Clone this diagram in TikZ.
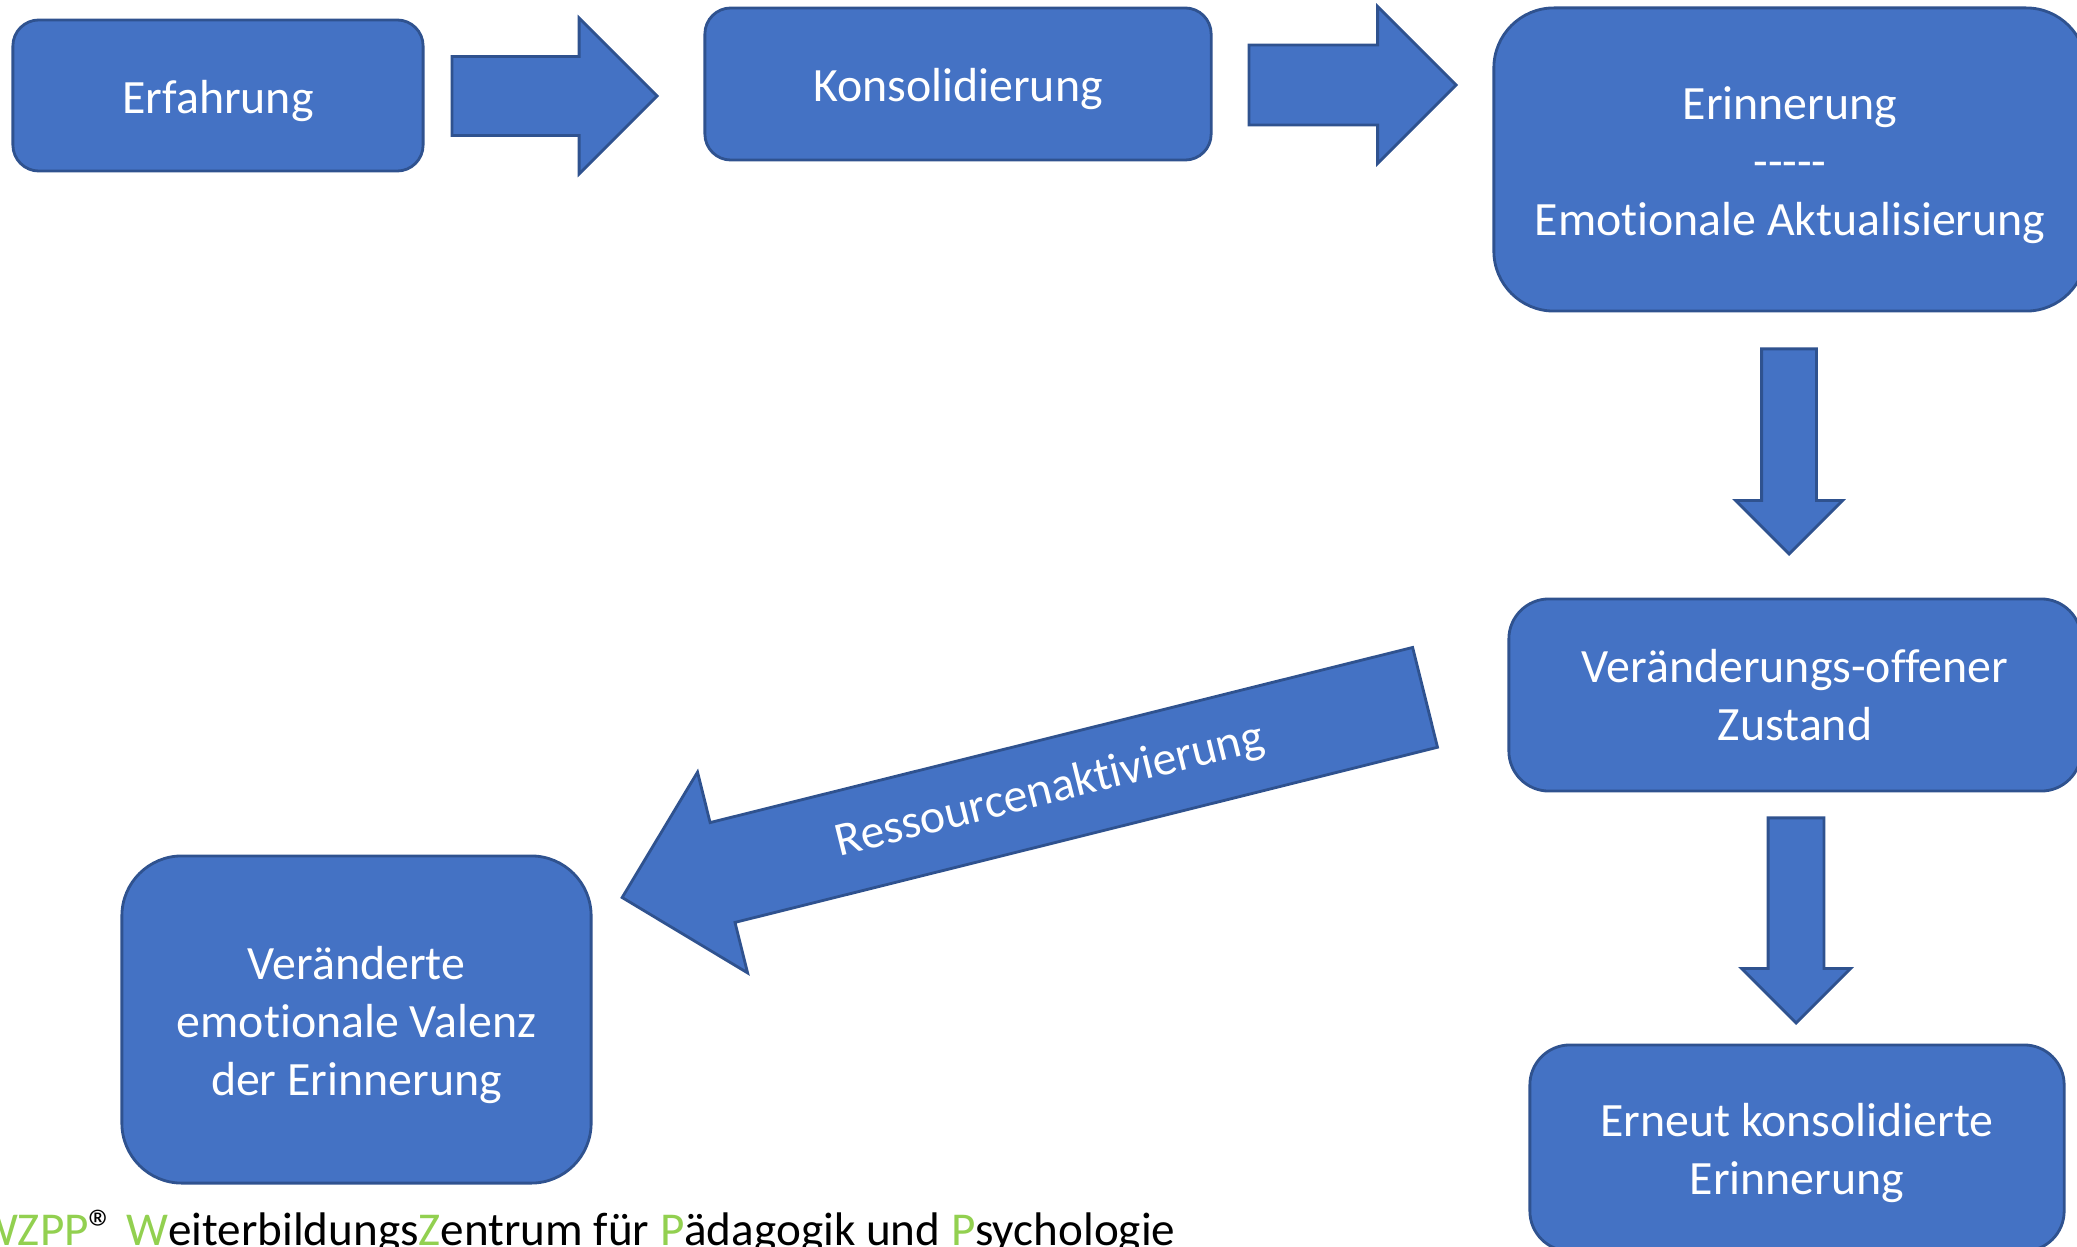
\documentclass[tikz,border=0pt]{standalone}
\usepackage{fontspec}
\setmainfont{Carlito}[Ligatures=NoCommon]
\usetikzlibrary{
  shapes.arrows,
  positioning,
  calc}
\definecolor{boxcolor}{RGB}{68,114,196}
\definecolor{bordercolor}{RGB}{47,82,143}
\definecolor{wzppgreen}{RGB}{146,208,80}
\newcommand{\slidefont}{\fontsize{13.6}{16.5}\selectfont}
%% a little room above the first line, as the slide has it
\newcommand{\headroom}{\rule{0pt}{12.4pt}}
\tikzset{
  %% phase : a phase of the memory process
  phase/.style={
    rectangle,
    rounded corners=0.26cm,
    fill=boxcolor,
    draw=bordercolor,
    line width=0.8pt,
    text=white,
    font=\slidefont,
    align=center
  },
  %% blockarrow : wide arrow from one phase to the next
  %%   inner ysep is half the width of the shaft
  blockarrow/.style={
    single arrow,
    single arrow tip angle=90,
    fill=boxcolor,
    draw=bordercolor,
    line width=0.8pt,
    inner xsep=0pt,
    anchor=tail
  },
  %% arrowlabel : text written on a block arrow
  arrowlabel/.style={
    text=white,
    font=\slidefont,
    inner sep=0pt
  }
}

\begin{document}
\begin{tikzpicture}
  [x=0.01cm,
  y=-0.01cm,
  align=center]

  \path [use as bounding box, clip] (0,0) rectangle (2077,1246);

  %% phases
  \node (erf) [phase, minimum width=4.10cm, minimum height=1.51cm]
    at (218,95.5) {\headroom Erfahrung};

  \node (kons) [phase, minimum width=5.06cm, minimum height=1.52cm]
    at (958,84) {\headroom Konsolidierung};

  \node (erin) [phase, rounded corners=0.6cm,
    minimum width=5.92cm, minimum height=3.03cm] at (1790,159.5) {%
    \headroom Erinnerung\\
    -{}-{}-{}-{}-\\
    Emotionale Aktualisierung};

  \node (offen) [phase, rounded corners=0.4cm,
    minimum width=5.72cm, minimum height=1.92cm] at (1795,695) {%
    Veränderungs-offener\\
    Zustand};

  \node (neu) [phase, rounded corners=0.4cm,
    minimum width=5.34cm, minimum height=2.06cm] at (1797,1148) {%
    \headroom Erneut konsolidierte\\
    Erinnerung};

  \node (ver) [phase, rounded corners=0.6cm,
    minimum width=4.69cm, minimum height=3.27cm] at (356.5,1019.5) {%
    \headroom Veränderte\\
    emotionale Valenz\\
    der Erinnerung};


  %% block arrows
  \node (arr_erf_kons) [blockarrow, minimum height=2.05cm,
    inner ysep=0.38cm, single arrow head extend=0.385cm] at
    ($(erf.east)+(26,0.5)$) {};

  \node (arr_kons_erin) [blockarrow, minimum height=2.07cm,
    inner ysep=0.385cm, single arrow head extend=0.385cm] at
    ($(kons.east)+(35,1)$) {};

  \node (arr_erin_offen) [blockarrow, rotate=-90, minimum height=2.05cm,
    inner ysep=0.26cm, single arrow head extend=0.26cm] at
    ($(erin.south)+(-1,35)$) {};

  \node (arr_offen_neu) [blockarrow, rotate=-90, minimum height=2.05cm,
    inner ysep=0.265cm, single arrow head extend=0.265cm] at
    ($(offen.south)+(1,24)$) {};

  \node (arr_offen_ver) [blockarrow, rotate=194, minimum height=8.27cm,
    inner ysep=0.5cm, single arrow head extend=0.52cm] at
    ($(offen.west)+(-81,2)$) {};
  \node (lbl_res) [arrowlabel, rotate=14] at
    ($(arr_offen_ver.tail)!0.467!(arr_offen_ver.tip)$) {Ressourcenaktivierung};


  %% footer
  \node (footer) [anchor=base east, inner sep=0pt,
    font=\fontsize{13.4}{16}\selectfont] at (1176,1245) {%
    \textcolor{wzppgreen}{WZPP}\raisebox{-0.4pt}{\fontsize{15}{15}\selectfont ®}
    \textcolor{wzppgreen}{W}eiterbildungs\textcolor{wzppgreen}{Z}entrum
    für \textcolor{wzppgreen}{P}ädagogik und
    \textcolor{wzppgreen}{P}sychologie};

\end{tikzpicture}
\end{document}
